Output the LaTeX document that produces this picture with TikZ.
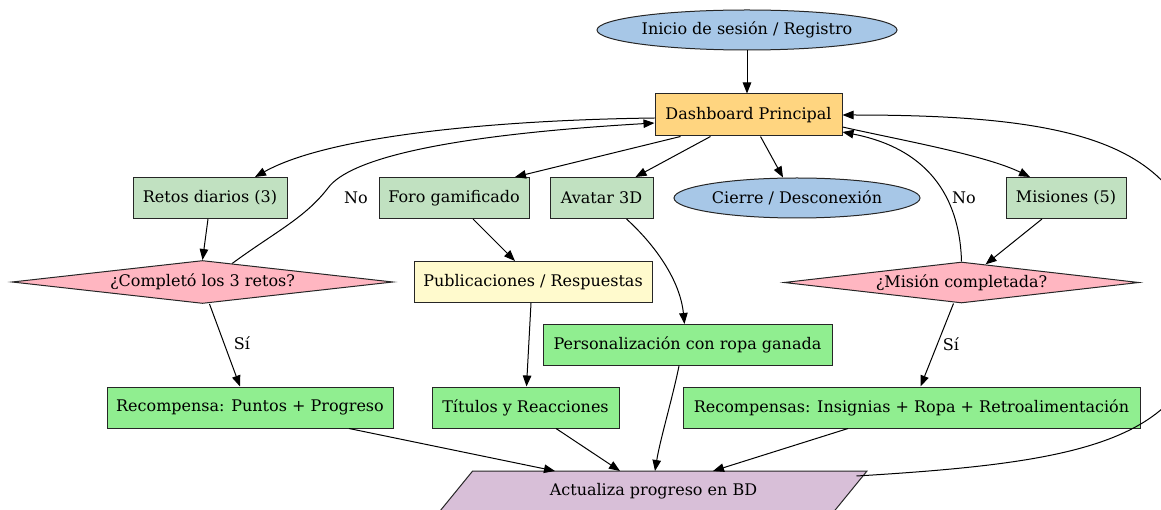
\documentclass[tikz,border=0pt]{standalone}
\usepackage{fontspec}
\setmainfont{DejaVu Serif}
\usepackage{tikz}
\usetikzlibrary{positioning,shapes.geometric,arrows.meta,calc}
\definecolor{azul}{HTML}{A7C7E7}
\definecolor{naranja}{HTML}{FFD580}
\definecolor{verdepal}{HTML}{C1E1C1}
\definecolor{verde}{HTML}{90EE90}
\definecolor{amarillo}{HTML}{FFFACD}
\definecolor{rosa}{HTML}{FFB6C1}
\definecolor{lila}{HTML}{D8BFD8}
\tikzset{base/.style={draw=black!85,line width=1pt,inner sep=0pt,minimum height=41pt,
        font=\fontsize{16}{19}\selectfont},
        caja/.style={base,rectangle},
        reto/.style={caja,fill=verdepal},
        premio/.style={caja,fill=verde},
        ovalo/.style={base,ellipse,fill=azul},
        pregunta/.style={base,diamond,aspect=9,fill=rosa},
        etiqueta/.style={inner sep=0pt,font=\fontsize{16}{19}\selectfont},
        flecha/.style={-{Triangle[length=11pt,width=8.5pt]},line width=1pt}}

\begin{document}
\begin{tikzpicture}[x=1pt,y=-1pt]
  \useasboundingbox (0,0) rectangle (1161,510);
  \node[ovalo,minimum width=300pt,minimum height=40pt] (inicio) at (747,30) {Inicio de sesión / Registro};
  \node[caja,fill=naranja,minimum width=187pt,minimum height=42pt] (dash) at (748.5,115) {Dashboard Principal};
  \node[reto,minimum width=154pt] (retos) at (210,198) {Retos diarios (3)};
  \node[reto,minimum width=150pt] (foro) at (454,198) {Foro gamificado};
  \node[reto,minimum width=103pt] (avatar) at (601.5,198) {Avatar 3D};
  \node[ovalo,minimum width=246pt,minimum height=40pt] (cierre) at (797,198) {Cierre / Desconexión};
  \node[reto,minimum width=120pt] (misiones) at (1066,198) {Misiones (5)};
  \node[pregunta,minimum width=381pt,minimum height=43pt] (completo) at (202.5,282) {¿Completó los 3 retos?};
  \node[caja,fill=amarillo,minimum width=238pt] (pub) at (533,282) {Publicaciones / Respuestas};
  \node[pregunta,minimum width=355pt,minimum height=41pt] (mision) at (961.5,282.5) {¿Misión completada?};
  \node[premio,minimum width=289pt] (pers) at (687.5,345) {Personalización con ropa ganada};
  \node[premio,minimum width=286pt] (puntos) at (250,407.5) {Recompensa: Puntos + Progreso};
  \node[premio,minimum width=187pt] (titulos) at (525.5,407.5) {Títulos y Reacciones};
  \node[premio,minimum width=457pt] (insignias) at (911.5,407.5) {Recompensas: Insignias + Ropa + Retroalimentación};
  \node[base,trapezium,trapezium left angle=25.7,trapezium right angle=154.3,trapezium stretches body,
        minimum width=427pt,minimum height=40pt,fill=lila] (bd) at (653.5,491) {Actualiza progreso en BD};

  \node[etiqueta] (no1) at (356,198) {No};
  \node[etiqueta] (si1) at (242,343) {Sí};
  \node[etiqueta] (no2) at (964,198) {No};
  \node[etiqueta] (si2) at (951,344) {Sí};

  \draw[flecha] (inicio) -- (inicio |- dash.north);
  \draw[flecha] ([yshift=-3pt]dash.west) .. controls (500,120) and (330,135) .. ([xshift=45pt]retos.north);
  \draw[flecha] ([xshift=-2pt]retos.south) -- (completo.north);
  \draw[flecha] (completo.32) .. controls (275,232) and (305,218) .. (328,188)
        .. controls (350,158) and (450,135) .. ([yshift=-8pt]dash.west);
  \draw[flecha] ([xshift=7pt]completo.south) -- ([xshift=-10pt]puntos.north);
  \draw[flecha] ([xshift=-68pt]dash.south) -- ([xshift=61pt]foro.north);
  \draw[flecha] ([xshift=19pt]foro.south) -- ([xshift=-18pt]pub.north);
  \draw[flecha] ([xshift=-2pt]pub.south) -- ([xshift=1pt]titulos.north);
  \draw[flecha] ([xshift=-38pt]dash.south) -- ([xshift=34pt]avatar.north);
  \draw[flecha] ([xshift=25pt]avatar.south) .. controls (655,245) and (680,280) .. ([xshift=-3pt]pers.north);
  \draw[flecha] ([xshift=12pt]dash.south) -- ([xshift=-14pt]cierre.north);
  \draw[flecha] ([yshift=-12pt]dash.east) .. controls (900,140) and (985,155) .. ([xshift=-36pt]misiones.north);
  \draw[flecha] ([xshift=-24pt]misiones.south) -- (mision.37);
  \draw[flecha] (mision.north) .. controls (960,205) and (935,150) .. ([yshift=-17pt]dash.east);
  \draw[flecha] ([xshift=-8pt]mision.south) -- ([xshift=9pt]insignias.north);
  \draw[flecha] ([xshift=99pt]puntos.south) -- ($(bd)+(-98.5,-20)$);
  \draw[flecha] ([xshift=30.5pt]titulos.south) -- ($(bd)+(-33.5,-20)$);
  \draw[flecha] ([xshift=-8.5pt]pers.south) .. controls (672,400) and (660,440) .. ($(bd)+(1.5,-20)$);
  \draw[flecha] ([xshift=-63.5pt]insignias.south) -- ($(bd)+(59.5,-20)$);
  \draw[flecha] ($(bd)+(203,-15)$) .. controls (1090,462) and (1205,440) .. (1205,300)
        .. controls (1200,150) and (1100,115) .. (dash.east);
\end{tikzpicture}
\end{document}
